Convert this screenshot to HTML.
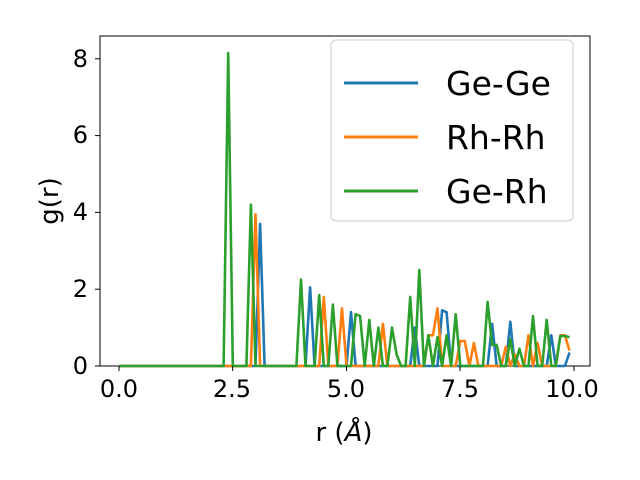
<!DOCTYPE html>
<html><head><style>body{margin:0;background:#fff}svg{display:block}text{font-family:"DejaVu Sans","Liberation Sans",sans-serif}</style></head>
<body>
<svg id="s" width="640" height="480" viewBox="0 0 640 480">
<rect x="100" y="36" width="490" height="330" fill="none" stroke="#000" stroke-width="1"/>
<g id="lines"></g>
<g font-size="24" text-anchor="middle">
<text x="119" y="397">0.0</text><text x="232" y="397">2.5</text><text x="346" y="397">5.0</text><text x="460" y="397">7.5</text><text x="572" y="397">10.0</text>
</g>
<g stroke="#000"><line x1="119" y1="366" x2="119" y2="371"/><line x1="232.7" y1="366" x2="232.7" y2="371"/><line x1="346.5" y1="366" x2="346.5" y2="371"/><line x1="460" y1="366" x2="460" y2="371"/><line x1="574" y1="366" x2="574" y2="371"/>
<line x1="95" y1="366" x2="100" y2="366"/><line x1="95" y1="289.2" x2="100" y2="289.2"/><line x1="95" y1="212.4" x2="100" y2="212.4"/><line x1="95" y1="135.6" x2="100" y2="135.6"/><line x1="95" y1="58.8" x2="100" y2="58.8"/></g>
<g font-size="24" text-anchor="end">
<text x="88" y="374">0</text><text x="88" y="297">2</text><text x="88" y="220">4</text><text x="88" y="143">6</text><text x="88" y="67">8</text>
</g>
<text x="344" y="441" font-size="26" text-anchor="middle">r (<tspan font-style="italic">Å</tspan>)</text>
<text transform="translate(58,201) rotate(-90)" font-size="26" text-anchor="middle">g(r)</text>
<rect x="331" y="40" width="242" height="181" rx="5" fill="#fff" fill-opacity="0.8" stroke="#ccc"/>
<line x1="344" y1="83" x2="418" y2="83" stroke="#1f77b4" stroke-width="3"/>
<line x1="344" y1="137" x2="418" y2="137" stroke="#ff7f0e" stroke-width="3"/>
<line x1="344" y1="191" x2="418" y2="191" stroke="#2ca02c" stroke-width="3"/>
<g font-size="33"><text x="446" y="95">Ge-Ge</text><text x="446" y="149">Rh-Rh</text><text x="446" y="203">Ge-Rh</text></g>
</svg>
<script>
function mk(d,c){var a=[];for(var i=0;i<100;i++){var r=i/10,v=d[i.toString()]||0;a.push((119+45.5*r).toFixed(1)+","+(366-38.4*v).toFixed(1));}
var p=document.createElementNS("http://www.w3.org/2000/svg","polyline");p.setAttribute("points",a.join(" "));p.setAttribute("fill","none");p.setAttribute("stroke",c);p.setAttribute("stroke-width","2.6");p.setAttribute("stroke-linejoin","round");document.getElementById("lines").appendChild(p);}
var blue={31:3.7,42:2.05,51:1.4,65:1.0,71:1.45,72:1.4,82:1.1,86:1.15,95:0.8,99:0.35};
var orange={30:3.95,45:1.8,49:1.5,58:1.1,68:0.8,69:0.8,70:1.5,75:0.65,76:0.65,78:0.6,85:0.5,87:0.3,90:0.8,92:0.6,97:0.8,98:0.8,99:0.4};
var green={24:8.15,29:4.2,40:2.25,44:1.85,47:1.6,52:1.35,53:1.3,55:1.2,57:1.0,60:1.0,61:0.3,64:1.8,66:2.5,68:0.8,70:0.75,72:0.8,74:1.35,81:1.67,82:0.55,83:0.55,86:0.7,88:0.45,91:1.3,94:1.2,97:0.78,98:0.78,99:0.75};
mk(blue,"#1f77b4");mk(orange,"#ff7f0e");mk(green,"#2ca02c");
</script>
</body></html>
